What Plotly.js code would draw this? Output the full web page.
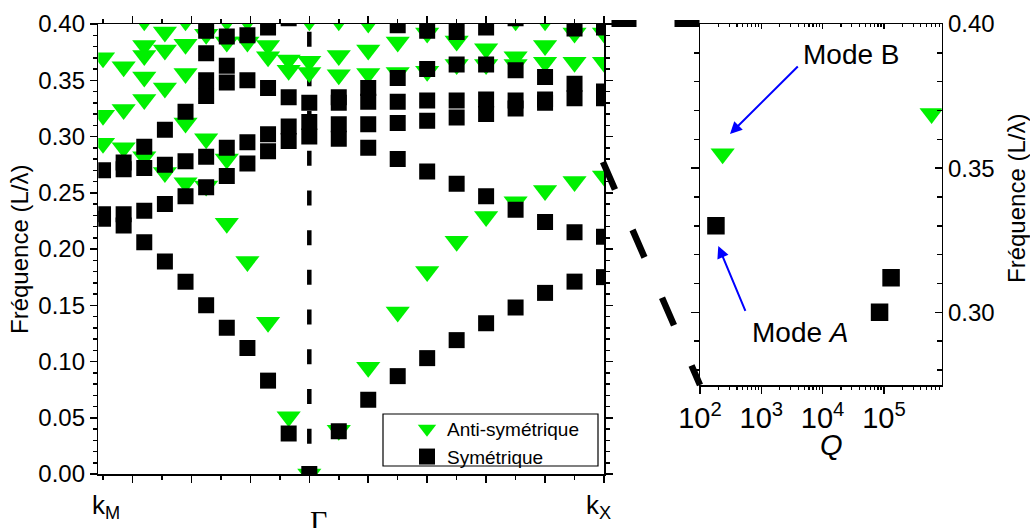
<!DOCTYPE html>
<html><head><meta charset="utf-8">
<script src="https://cdn.plot.ly/plotly-3.0.1.min.js"></script>
<style>html,body{margin:0;padding:0;background:#fff}#chart{width:1030px;height:528px}</style>
</head><body><div id="chart"></div>
<script>
// Positions of the computed k points along the path (tick units, Γ = 0)
const kPos = [-7,-6.3,-5.6,-4.9,-4.2,-3.5,-2.8,-2.1,-1.4,-0.7,0,1,2,3,4,5,6,7,8,9,10];
// Anti-symmetric modes (L/λ) at each k point
const antiSym = [
  [0.370,0.319,0.294],
  [0.362,0.324,0.290],
  [0.403,0.381,0.372,0.353,0.333,0.282],
  [0.393,0.377,0.343,0.268],
  [0.403,0.382,0.356,0.312,0.259],
  [0.391,0.298,0.256],
  [0.403,0.384,0.280,0.223],
  [0.403,0.384,0.189],
  [0.381,0.371,0.135],
  [0.368,0.359,0.051],
  [0.403,0.367,0.357,0.000],
  [0.403,0.372,0.355,0.039],
  [0.401,0.377,0.356,0.095],
  [0.384,0.357,0.144],
  [0.392,0.358,0.180],
  [0.385,0.364,0.207],
  [0.378,0.364,0.229],
  [0.403,0.371,0.364,0.242],
  [0.403,0.381,0.366,0.252],
  [0.392,0.366,0.260],
  [0.392,0.366,0.265]
];
// Symmetric modes (L/λ) at each k point
const symModes = [
  [0.270,0.231,0.227],
  [0.277,0.271,0.231,0.221],
  [0.291,0.272,0.234,0.206],
  [0.306,0.275,0.240,0.189],
  [0.322,0.278,0.247,0.171],
  [0.394,0.374,0.350,0.336,0.282,0.255,0.150],
  [0.389,0.363,0.348,0.290,0.265,0.130],
  [0.390,0.350,0.295,0.276,0.112],
  [0.397,0.343,0.302,0.287,0.083],
  [0.405,0.335,0.309,0.296,0.036],
  [0.330,0.313,0.300,0.000],
  [0.335,0.330,0.311,0.298,0.038],
  [0.343,0.331,0.311,0.290,0.066],
  [0.399,0.352,0.331,0.312,0.280,0.087],
  [0.394,0.360,0.332,0.314,0.269,0.103],
  [0.393,0.364,0.332,0.317,0.258,0.119],
  [0.397,0.364,0.333,0.320,0.247,0.134],
  [0.405,0.359,0.332,0.325,0.235,0.148],
  [0.353,0.333,0.330,0.224,0.161],
  [0.396,0.347,0.334,0.215,0.171],
  [0.397,0.340,0.334,0.211,0.175]
];
// Quality factors (right panel)
const qAnti = [234, 6.0e5];
const fAnti = [0.355, 0.369];
const qSym = [182, 8.5e4, 1.31e5];
const fSym = [0.330, 0.300, 0.312];
const legendNames = ['Anti-symétrique', 'Symétrique'];
const pathLabels = ['k<sub>M</sub>', 'Γ', 'k<sub>X</sub>'];
const qTickVals = [1e2, 1e3, 1e4, 1e5];
const qTickText = ['10<sup>2</sup>', '10<sup>3</sup>', '10<sup>4</sup>', '10<sup>5</sup>'];
const modeLabels = ['Mode B', 'Mode <i>A</i>'];
const yTitle = 'Fréquence (L/λ)';

function flatten(cols) {
  const x = [], y = [];
  cols.forEach((c, i) => c.forEach(v => { x.push(kPos[i]); y.push(v); }));
  return {x, y};
}
const A = flatten(antiSym), S = flatten(symModes);

const W = 1030, H = 528;
const px = v => v / W, py = v => 1 - v / H;
const FONT = 'Liberation Sans, Arial, sans-serif';
const GREEN = '#00f000';

// minor tick positions for log axis
const qMinor = [];
for (let e = 2; e <= 5; e++) for (let m = 2; m <= 9; m++) qMinor.push(m * Math.pow(10, e));

const traces = [
  {x: A.x, y: A.y, type: 'scatter', mode: 'markers', name: legendNames[0],
   marker: {symbol: 'triangle-down', size: 21, color: GREEN}, xaxis: 'x', yaxis: 'y'},
  {x: S.x, y: S.y, type: 'scatter', mode: 'markers', name: legendNames[1],
   marker: {symbol: 'square', size: 16, color: '#000'}, xaxis: 'x', yaxis: 'y'},
  {x: qAnti, y: fAnti, type: 'scatter', mode: 'markers', showlegend: false,
   marker: {symbol: 'triangle-down', size: 21, color: GREEN}, xaxis: 'x3', yaxis: 'y3'},
  {x: qSym, y: fSym, type: 'scatter', mode: 'markers', showlegend: false,
   marker: {symbol: 'square', size: 17.5, color: '#000'}, xaxis: 'x3', yaxis: 'y3'},
  {x: [1000], y: [0.35], type: 'scatter', mode: 'markers', showlegend: false, hoverinfo: 'skip',
   marker: {opacity: 0}, xaxis: 'x4', yaxis: 'y3'},
  {x: [1000], y: [0.35], type: 'scatter', mode: 'markers', showlegend: false, hoverinfo: 'skip',
   marker: {opacity: 0}, xaxis: 'x3', yaxis: 'y4'}
];

const axBase = {showline: true, linecolor: '#000', linewidth: 1.5, showgrid: false, zeroline: false,
  tickcolor: '#000', tickwidth: 1.5, tickfont: {family: FONT, size: 24, color: '#000'}};

function label(x, y, text, size, extra) {
  return Object.assign({xref: 'paper', yref: 'paper', x: px(x), y: py(y), text: text, showarrow: false,
    xanchor: 'center', yanchor: 'middle', font: {family: FONT, size: size, color: '#000'}}, extra || {});
}

const layout = {
  width: W, height: H, margin: {l: 0, r: 0, t: 0, b: 0},
  paper_bgcolor: '#fff', plot_bgcolor: 'rgba(0,0,0,0)',
  font: {family: FONT, color: '#000'},
  showlegend: true,
  legend: {x: px(407), y: py(410), xanchor: 'left', yanchor: 'top', bgcolor: 'rgba(0,0,0,0)',
    borderwidth: 0, font: {family: FONT, size: 19, color: '#000'}},
  xaxis: Object.assign({}, axBase, {domain: [px(98.3), px(604)], range: [-7.16, 10], anchor: 'y',
    mirror: 'ticks', ticks: 'outside', ticklen: 7, tick0: 0, dtick: 2, showticklabels: false,
    minor: {tick0: 0, dtick: 1, ticks: 'outside', ticklen: 4, tickwidth: 1.5, tickcolor: '#000', showgrid: false}}),
  yaxis: Object.assign({}, axBase, {domain: [py(474), py(24)], range: [0, 0.40], anchor: 'x',
    mirror: 'ticks', ticks: 'outside', ticklen: 7, tick0: 0, dtick: 0.05, tickformat: '.2f',
    minor: {tick0: 0, dtick: 0.01, ticks: 'outside', ticklen: 4, tickwidth: 1.5, tickcolor: '#000', showgrid: false}}),
  xaxis3: Object.assign({}, axBase, {domain: [px(700), px(941.7)], type: 'log', range: [2, 5.943], anchor: 'y3',
    ticks: 'outside', ticklen: 7, tickvals: qTickVals, ticktext: qTickText,
    tickfont: {family: FONT, size: 29, color: '#000'},
    minor: {tickvals: qMinor, ticks: 'outside', ticklen: 3, tickwidth: 1.2, tickcolor: '#000', showgrid: false}}),
  xaxis4: Object.assign({}, axBase, {overlaying: 'x3', side: 'top', type: 'log', range: [2, 5.943], anchor: 'y3',
    ticks: 'inside', ticklen: 5, tickvals: qTickVals, showticklabels: false,
    minor: {tickvals: qMinor, ticks: 'inside', ticklen: 3, tickwidth: 1.2, tickcolor: '#000', showgrid: false}}),
  yaxis3: Object.assign({}, axBase, {domain: [py(385), py(24)], range: [0.2748, 0.40], anchor: 'x3', side: 'right',
    ticks: 'inside', ticklen: 7, tick0: 0.3, dtick: 0.05, tickformat: '.2f',
    minor: {tick0: 0.3, dtick: 0.01, ticks: 'inside', ticklen: 5, tickwidth: 1.5, tickcolor: '#000', showgrid: false}}),
  yaxis4: Object.assign({}, axBase, {overlaying: 'y3', side: 'left', range: [0.2748, 0.40], anchor: 'x3',
    ticks: 'outside', ticklen: 8, tick0: 0.3, dtick: 0.05, showticklabels: false,
    minor: {tick0: 0.3, dtick: 0.01, ticks: 'outside', ticklen: 5, tickwidth: 1.5, tickcolor: '#000', showgrid: false}}),
  shapes: [
    {type: 'line', xref: 'x', yref: 'y', x0: 0, x1: 0, y0: 0.3932, y1: 0, layer: 'below',
     line: {color: '#000', width: 4.5, dash: '15px,24.7px'}},
    {type: 'line', xref: 'paper', yref: 'paper', x0: px(611.5), y0: py(23.5), x1: px(702), y1: py(23.5),
     line: {color: '#000', width: 7, dash: '25px,38px'}},
    {type: 'line', xref: 'paper', yref: 'paper', x0: px(603), y0: py(162), x1: px(700), y1: py(385),
     line: {color: '#000', width: 6.5, dash: '30px,44px'}},
    {type: 'rect', xref: 'paper', yref: 'paper', x0: px(383), y0: py(414), x1: px(598), y1: py(466),
     line: {color: '#000', width: 1.2}, fillcolor: 'rgba(0,0,0,0)'}
  ],
  annotations: [
    label(106, 506, pathLabels[0], 26),
    label(318.5, 520, pathLabels[1], 30, {font: {family: 'Liberation Serif, serif', size: 30, color: '#000'}}),
    label(598, 506, pathLabels[2], 26),
    label(19, 250, yTitle, 24, {textangle: -90}),
    label(1016, 199, yTitle, 24, {textangle: -90}),
    label(831, 445, '<i>Q</i>', 29),
    label(851, 54, modeLabels[0], 28),
    label(800.5, 332, modeLabels[1], 28),
    {xref: 'paper', yref: 'paper', x: px(730), y: py(134), ax: 69.3, ay: -69, axref: 'pixel', ayref: 'pixel',
     text: '', showarrow: true, arrowcolor: '#0000ff', arrowwidth: 2, arrowhead: 2, arrowsize: 1.2},
    {xref: 'paper', yref: 'paper', x: px(718.3), y: py(246), ax: 27.7, ay: 66.3, axref: 'pixel', ayref: 'pixel',
     text: '', showarrow: true, arrowcolor: '#0000ff', arrowwidth: 2, arrowhead: 2, arrowsize: 1.2}
  ]
};

Plotly.newPlot('chart', traces, layout, {displayModeBar: false, staticPlot: true});
</script></body></html>
